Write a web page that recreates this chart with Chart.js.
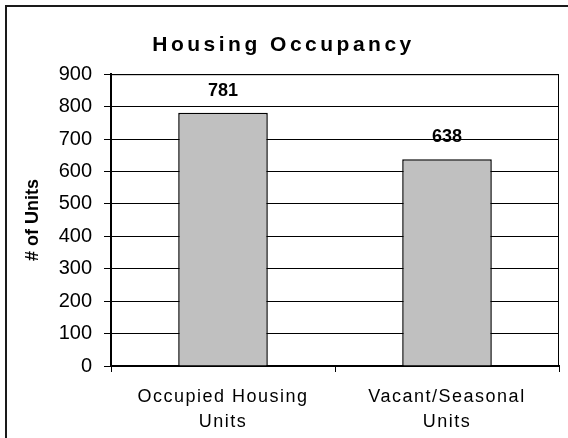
<!DOCTYPE html>
<html>
<head>
<meta charset="utf-8">
<script src="https://cdn.jsdelivr.net/npm/chart.js@4/dist/chart.umd.min.js"></script>
<style>
  body { margin: 0; background: #fff; }
  #wrap { position: relative; width: 568px; height: 438px; overflow: hidden; }
  #frame { position: absolute; left: 5px; top: 5px; width: 700px; height: 600px; border: 2px solid #1a1a1a; }
  canvas { position: absolute; left: 0; top: 0; }
</style>
</head>
<body>
<div id="wrap">
  <div id="frame"></div>
  <canvas id="chart" width="568" height="438"></canvas>
</div>
<script>
'use strict';

// chart data
const categories = [['Occupied Housing', 'Units'], ['Vacant/Seasonal', 'Units']];
const units = [781, 638];
const yTicks = [0, 100, 200, 300, 400, 500, 600, 700, 800, 900];

const fontFamily = 'Arial, "Liberation Sans", sans-serif';

// spaced-out text for title and category labels
const spacingPlugin = {
  id: 'spacing',
  beforeDraw(chart) {
    const title = chart.titleBlock;
    if (title && !title._spaced) {
      const origDraw = title.draw;
      title.draw = function (...args) {
        this.ctx.save();
        this.ctx.letterSpacing = '3.5px';
        this.ctx.translate(-7, 0); // title sits over the whole frame, not the plot
        origDraw.apply(this, args);
        this.ctx.restore();
      };
      title._spaced = true;
    }
    const x = chart.scales.x;
    if (x && !x._spaced) {
      const origLabels = x.drawLabels;
      x.drawLabels = function (...args) {
        this.ctx.save();
        this.ctx.letterSpacing = '1.5px';
        origLabels.apply(this, args);
        this.ctx.restore();
      };
      x._spaced = true;
    }
  }
};

// thin top/right border of the plot area plus value labels over the bars
const framePlugin = {
  id: 'frame',
  afterDatasetsDraw(chart) {
    const ctx = chart.ctx;
    const area = chart.chartArea;
    ctx.save();
    ctx.strokeStyle = '#000';
    ctx.lineWidth = 1;
    ctx.beginPath();
    ctx.moveTo(area.left, area.top + 0.5);
    ctx.lineTo(area.right - 0.5, area.top + 0.5);
    ctx.lineTo(area.right - 0.5, area.bottom);
    ctx.stroke();

    ctx.fillStyle = '#000';
    ctx.font = 'bold 18px ' + fontFamily;
    ctx.textAlign = 'center';
    ctx.textBaseline = 'bottom';
    chart.getDatasetMeta(0).data.forEach(function (bar, i) {
      ctx.fillText(String(units[i]), bar.x, bar.y - 13);
    });
    ctx.restore();
  }
};

const ctx = document.getElementById('chart').getContext('2d');
const myChart = new Chart(ctx, {
  type: 'bar',
  data: {
    labels: categories,
    datasets: [{
      data: units,
      backgroundColor: '#c0c0c0',
      borderColor: '#000',
      borderWidth: 1.5,
      barPercentage: 0.4,
      categoryPercentage: 1
    }]
  },
  options: {
    responsive: false,
    animation: false,
    layout: {
      padding: { left: 22, top: 33, right: 9, bottom: 6 }
    },
    plugins: {
      legend: { display: false },
      tooltip: { enabled: false },
      title: {
        display: true,
        text: 'Housing Occupancy',
        color: '#000',
        font: { family: fontFamily, size: 21, weight: 'bold' },
        padding: { top: 0, bottom: 16 }
      }
    },
    scales: {
      x: {
        afterFit(scale) {
          scale.height = 66;
        },
        grid: {
          display: true,
          offset: true,
          drawOnChartArea: false,
          color: '#000',
          tickLength: 6
        },
        border: { color: '#000', width: 2 },
        ticks: {
          color: '#000',
          padding: 12,
          font: { family: fontFamily, size: 18, lineHeight: 1.4 }
        }
      },
      y: {
        min: 0,
        max: 900,
        afterBuildTicks(scale) {
          scale.ticks = yTicks.map(function (v) { return { value: v }; });
        },
        afterFit(scale) {
          scale.width = 89;
        },
        grid: {
          color: '#000',
          lineWidth: 1,
          tickLength: 7
        },
        border: { color: '#000', width: 2 },
        ticks: {
          color: '#000',
          padding: 12,
          font: { family: fontFamily, size: 20 }
        },
        title: {
          display: true,
          text: '# of Units',
          color: '#000',
          font: { family: fontFamily, size: 18, weight: 'bold' },
          padding: { top: 0, bottom: 6 }
        }
      }
    }
  },
  plugins: [spacingPlugin, framePlugin]
});
</script>
</body>
</html>
